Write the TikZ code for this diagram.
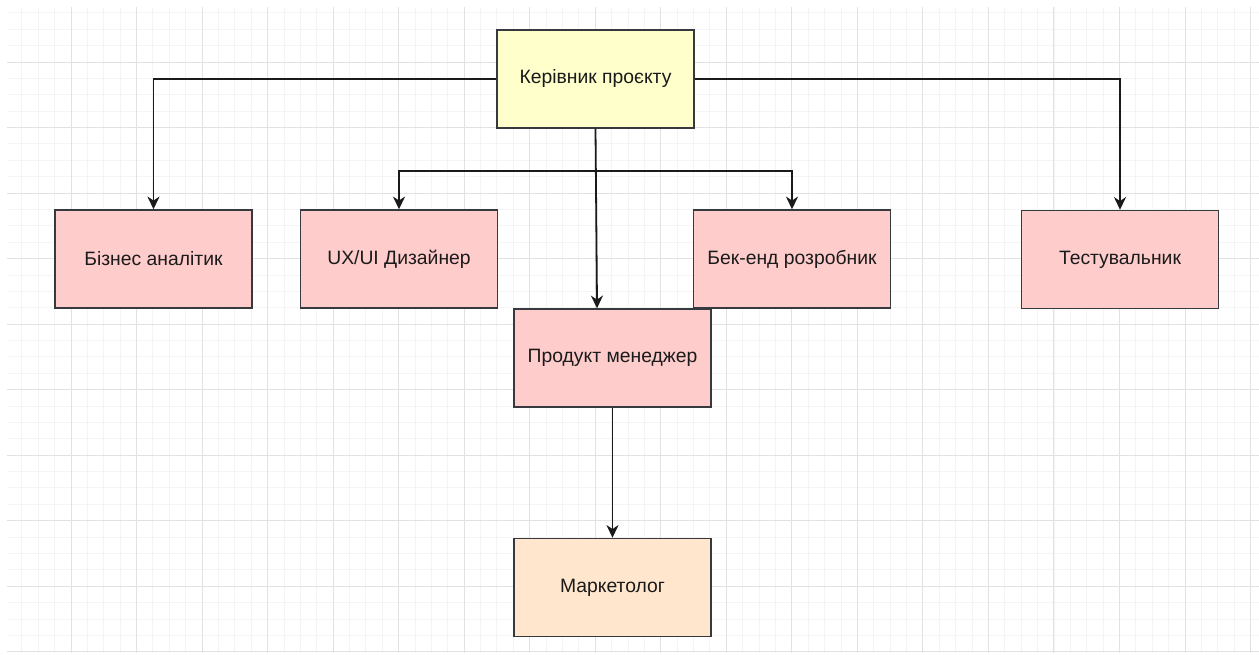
\documentclass[tikz,border=0pt]{standalone}
\usepackage{fontspec}
\setmainfont{Liberation Sans}
\usetikzlibrary{arrows.meta,calc}

\definecolor{gridminor}{HTML}{F4F4F4}
\definecolor{gridmajor}{HTML}{E2E2E2}
\definecolor{edgegray}{HTML}{36393D}
\definecolor{leadfill}{HTML}{FFFFCC}
\definecolor{rolefill}{HTML}{FFCCCC}
\definecolor{mktfill}{HTML}{FFE6CC}
\definecolor{inkline}{HTML}{1A1A1A}

\tikzset{
  role/.style={draw=edgegray, line width=1.1pt, minimum width=147.5pt,
    minimum height=73.5pt, inner sep=0pt, font=\fontsize{14.5}{17}\selectfont,
    text=inkline},
  lead/.style={role, fill=leadfill},
  staff/.style={role, fill=rolefill},
  mkt/.style={role, fill=mktfill},
  link/.style={draw=inkline, line width=1.35pt,
    -{Stealth[length=9.5pt,width=9pt,inset=3pt]}},
  plain/.style={draw=inkline, line width=1.35pt}
}

\begin{document}
\begin{tikzpicture}[x=0.75pt,y=-0.75pt]
  \useasboundingbox[fill=white] (0,0) rectangle (1259,655);

  % background grid
  \begin{scope}
    \clip (7,7) rectangle (1259,653);
    \foreach \i in {0,...,80} {
      \draw[gridminor, line width=0.75pt] ({5.5+16.383*\i},7) -- ({5.5+16.383*\i},653);
    }
    \foreach \i in {0,...,42} {
      \draw[gridminor, line width=0.75pt] (7,{-3.5+16.383*\i}) -- (1259,{-3.5+16.383*\i});
    }
    \foreach \i in {0,...,20} {
      \draw[gridmajor, line width=0.75pt] ({5.5+65.53*\i},7) -- ({5.5+65.53*\i},653);
    }
    \foreach \i in {0,...,10} {
      \draw[gridmajor, line width=0.75pt] (7,{-3.5+65.53*\i}) -- (1259,{-3.5+65.53*\i});
    }
  \end{scope}

  % boxes
  \node[lead]  (pm)   at (595.5,79)   {Керівник проєкту};
  \node[staff] (ba)   at (153.5,259)  {Бізнес аналітик};
  \node[staff] (ux)   at (399,259)    {UX/UI Дизайнер};
  \node[staff] (be)   at (792,259)    {Бек-енд розробник};
  \node[staff] (qa)   at (1120,259.5) {Тестувальник};
  \node[staff] (prod) at (612.5,358)  {Продукт менеджер};
  \node[mkt]   (mk)   at (612.5,587.5){Маркетолог};

  % connectors
  \coordinate (split) at ($(pm.south)+(0,42)$);
  \coordinate (prodin) at ($(prod.north west)!0.422!(prod.north east)$);

  \draw[link] (pm.west) -| (ba.north);
  \draw[link] (pm.east) -| (qa.north);
  \draw[plain] (pm.south) -- (split);
  \draw[link] (split) -| (ux.north);
  \draw[link] (split) -| (be.north);
  \draw[link] (pm.south) -- (prodin);
  \draw[link] (prod.south) -- (mk.north);
\end{tikzpicture}
\end{document}
